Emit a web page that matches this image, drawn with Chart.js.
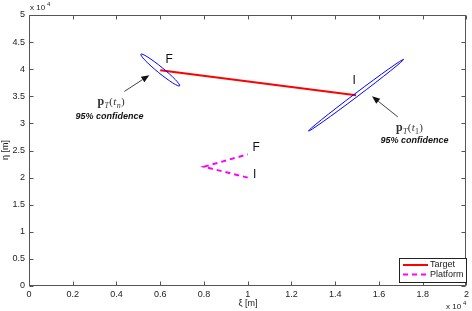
<!DOCTYPE html>
<html><head><meta charset="utf-8">
<script src="https://cdn.jsdelivr.net/npm/chart.js@4/dist/chart.umd.min.js"></script>
<style>html,body{margin:0;padding:0;background:#fff}#wrap{width:472px;height:311px}</style>
</head><body><div id="wrap"><canvas id="c" width="472" height="311"></canvas></div>
<script>
// ---- data (metres) ----
const targetXi  = [6000, 14950];
const targetEta = [39800, 35200];
const platformXi  = [10000, 8000, 10000];
const platformEta = [20000, 22000, 24300];
const seriesNames = ['Target', 'Platform'];

// 95% confidence ellipses: centre and conjugate semi-axis vectors (m)
const ellCenterXi  = [6000, 14950];
const ellCenterEta = [39850, 35200];
const ellMajorXi   = [-886, 2173];
const ellMajorEta  = [2926, 6611];
const ellMinorXi   = [86, 49];
const ellMinorEta  = [432, -267];

const xTickValues = [0,2000,4000,6000,8000,10000,12000,14000,16000,18000,20000];
const xTickLabels = ['0','0.2','0.4','0.6','0.8','1','1.2','1.4','1.6','1.8','2'];
const yTickValues = [0,5000,10000,15000,20000,25000,30000,35000,40000,45000,50000];
const yTickLabels = ['0','0.5','1','1.5','2','2.5','3','3.5','4','4.5','5'];

// annotation anchors (data coordinates)
const pointLabels = [
  {t:'F', x:6410, y:41700}, {t:'I', x:14860, y:37800},
  {t:'F', x:10380, y:25500}, {t:'I', x:10320, y:20600}
];
const confNotes = [
  {sub:'n', tx:3760, ty:34100, cx:3680, cy:31300, ax0:4360, ay0:35900, ax1:5500, ay1:38900},
  {sub:'1', tx:17400, ty:29400, cx:17620, cy:26850, ax0:16860, ay0:31200, ax1:15680, ay1:35000}
];

const FONT = '"Liberation Sans", Arial, sans-serif';
const SERIF = '"Liberation Serif", "DejaVu Serif", serif';

function arrow(ctx, x0, y0, x1, y1) {
  ctx.save();
  ctx.strokeStyle = '#111'; ctx.fillStyle = '#111'; ctx.lineWidth = 0.8;
  const ang = Math.atan2(y1 - y0, x1 - x0);
  const L = 8, W = 3.2;
  const bx = x1 - L * Math.cos(ang), by = y1 - L * Math.sin(ang);
  ctx.beginPath(); ctx.moveTo(x0, y0); ctx.lineTo(bx, by); ctx.stroke();
  ctx.beginPath();
  ctx.moveTo(x1, y1);
  ctx.lineTo(bx + W * Math.sin(ang), by - W * Math.cos(ang));
  ctx.lineTo(bx - W * Math.sin(ang), by + W * Math.cos(ang));
  ctx.closePath(); ctx.fill();
  ctx.restore();
}

function drawPT(ctx, cx, cy, sub) {
  const parts = [
    ['p', 'bold 12px ' + SERIF, 0],
    ['T', 'italic 8px ' + SERIF, 3],
    ['(', '11px ' + SERIF, 0],
    ['t', 'italic 11px ' + SERIF, 0],
    [sub, (sub === 'n' ? 'italic ' : '') + '8px ' + SERIF, 3],
    [')', '11px ' + SERIF, 0]
  ];
  let w = 0;
  parts.forEach(p => { ctx.font = p[1]; w += ctx.measureText(p[0]).width + 0.3; });
  let x = cx - w / 2;
  ctx.fillStyle = '#333'; ctx.textAlign = 'left'; ctx.textBaseline = 'alphabetic';
  parts.forEach(p => { ctx.font = p[1]; ctx.fillText(p[0], x, cy + 4 + p[2]); x += ctx.measureText(p[0]).width + 0.3; });
}

const decor = {
  id: 'decor',
  afterDraw(chart) {
    const ctx = chart.ctx, xs = chart.scales.x, ys = chart.scales.y, a = chart.chartArea;
    const L = Math.round(a.left) + 0.5, R = Math.round(a.right) - 0.5;
    const T = Math.round(a.top) + 0.5, B = Math.round(a.bottom) - 0.5;
    ctx.save();
    // ellipses
    ctx.strokeStyle = '#0000ff'; ctx.lineWidth = 1;
    for (let i = 0; i < ellCenterXi.length; i++) {
      const cx = xs.getPixelForValue(ellCenterXi[i]), cy = ys.getPixelForValue(ellCenterEta[i]);
      const mx = xs.getPixelForValue(ellCenterXi[i] + ellMajorXi[i]) - cx;
      const my = ys.getPixelForValue(ellCenterEta[i] + ellMajorEta[i]) - cy;
      const nx = xs.getPixelForValue(ellCenterXi[i] + ellMinorXi[i]) - cx;
      const ny = ys.getPixelForValue(ellCenterEta[i] + ellMinorEta[i]) - cy;
      ctx.save();
      ctx.transform(mx, my, nx, ny, cx, cy);
      ctx.beginPath(); ctx.arc(0, 0, 1, 0, Math.PI * 2);
      ctx.restore();
      ctx.stroke();
    }
    // box + ticks
    ctx.strokeStyle = '#555'; ctx.lineWidth = 1;
    ctx.strokeRect(L, T, R - L, B - T);
    ctx.beginPath();
    xTickValues.forEach(v => {
      const x = Math.round(xs.getPixelForValue(v)) + 0.5;
      ctx.moveTo(x, B); ctx.lineTo(x, B - 4);
      ctx.moveTo(x, T); ctx.lineTo(x, T + 4);
    });
    yTickValues.forEach(v => {
      const y = Math.round(ys.getPixelForValue(v)) + 0.5;
      ctx.moveTo(L, y); ctx.lineTo(L + 4, y);
      ctx.moveTo(R, y); ctx.lineTo(R - 4, y);
    });
    ctx.stroke();
    // multipliers
    ctx.fillStyle = '#222'; ctx.textBaseline = 'alphabetic'; ctx.textAlign = 'left';
    ctx.font = '8px ' + FONT; ctx.fillText('x 10', 30, 10);
    ctx.font = '6px ' + FONT; ctx.fillText('4', 47, 6);
    ctx.font = '8px ' + FONT; ctx.fillText('x 10', 446, 309);
    ctx.font = '6px ' + FONT; ctx.fillText('4', 463, 305);
    // axis titles
    ctx.font = '9px ' + FONT; ctx.textAlign = 'center'; ctx.textBaseline = 'middle';
    ctx.fillText('\u03be [m]', 248, 304);
    ctx.save(); ctx.translate(6, 150); ctx.rotate(-Math.PI / 2); ctx.fillText('\u03b7 [m]', 0, 0); ctx.restore();
    // point labels
    ctx.font = '12px ' + FONT; ctx.fillStyle = '#111';
    pointLabels.forEach(p => ctx.fillText(p.t, xs.getPixelForValue(p.x), ys.getPixelForValue(p.y)));
    // confidence notes
    confNotes.forEach(n => {
      arrow(ctx, xs.getPixelForValue(n.ax0), ys.getPixelForValue(n.ay0), xs.getPixelForValue(n.ax1), ys.getPixelForValue(n.ay1));
      drawPT(ctx, xs.getPixelForValue(n.tx), ys.getPixelForValue(n.ty), n.sub);
      ctx.font = 'bold italic 9px ' + FONT; ctx.fillStyle = '#111'; ctx.textAlign = 'center'; ctx.textBaseline = 'middle';
      ctx.fillText('95% confidence', xs.getPixelForValue(n.cx), ys.getPixelForValue(n.cy));
    });
    // legend
    const lx = 399.5, ly = 258.5, lw = 67, lh = 24;
    ctx.fillStyle = '#fff'; ctx.fillRect(lx, ly, lw, lh);
    ctx.strokeStyle = '#222'; ctx.lineWidth = 1; ctx.strokeRect(lx, ly, lw, lh);
    chart.data.datasets.forEach((ds, i) => {
      const y = 265 + i * 9.5;
      ctx.strokeStyle = ds.borderColor; ctx.lineWidth = 2; ctx.setLineDash(ds.borderDash || []);
      ctx.beginPath(); ctx.moveTo(403, y); ctx.lineTo(428, y); ctx.stroke();
      ctx.setLineDash([]);
      ctx.fillStyle = '#222'; ctx.font = '9px ' + FONT; ctx.textAlign = 'left'; ctx.textBaseline = 'middle';
      ctx.fillText(ds.label, 430, y);
    });
    ctx.restore();
  }
};

const tickFont = {family: FONT, size: 9};
new Chart(document.getElementById('c'), {
  type: 'scatter',
  data: {
    datasets: [
      {label: seriesNames[0], data: targetXi.map((x, i) => ({x, y: targetEta[i]})),
       showLine: true, borderColor: '#ff0000', borderWidth: 2, pointRadius: 0, fill: false},
      {label: seriesNames[1], data: platformXi.map((x, i) => ({x, y: platformEta[i]})),
       showLine: true, borderColor: '#ff00ff', borderWidth: 2, borderDash: [5, 4], pointRadius: 0, fill: false}
    ]
  },
  options: {
    responsive: false, animation: false, devicePixelRatio: 1,
    layout: {padding: {top: 15, right: 3, left: 0, bottom: 0}},
    plugins: {legend: {display: false}, tooltip: {enabled: false}},
    scales: {
      x: {type: 'linear', min: 0, max: 20000,
          grid: {display: false, drawTicks: false}, border: {display: false},
          afterBuildTicks: s => { s.ticks = xTickValues.map(v => ({value: v})); },
          ticks: {autoSkip: false, maxRotation: 0, padding: 3, font: tickFont, color: '#222',
                  callback: (v, i) => xTickLabels[i]},
          afterFit: s => { s.height = 25; }},
      y: {type: 'linear', min: 0, max: 50000,
          grid: {display: false, drawTicks: false}, border: {display: false},
          afterBuildTicks: s => { s.ticks = yTickValues.map(v => ({value: v})); },
          ticks: {autoSkip: false, padding: 4, font: tickFont, color: '#222',
                  callback: (v, i) => yTickLabels[i]},
          afterFit: s => { s.width = 29; }}
    }
  },
  plugins: [decor]
});
</script></body></html>
